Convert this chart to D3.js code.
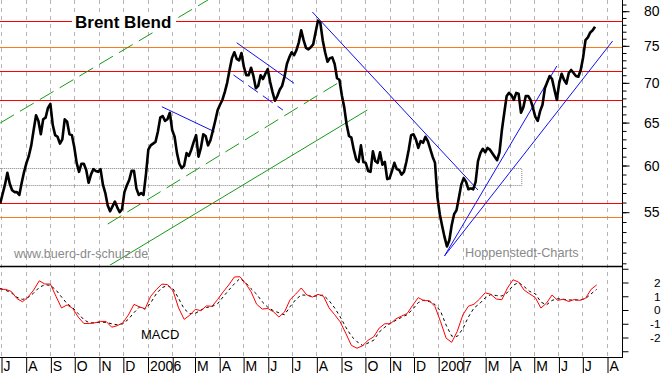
<!DOCTYPE html>
<html>
<head>
<meta charset="utf-8">
<script src="https://cdn.jsdelivr.net/npm/d3@7"></script>
<style>
  html, body { margin: 0; padding: 0; background: #fff; }
  svg { display: block; font-family: "Liberation Sans", Arial, sans-serif; }
</style>
</head>
<body>
<svg id="chart"></svg>
<script>
// Brent daily close, sampled every 3 days starting 2005-06-30
const PRICE_START = new Date(2005, 5, 30);
const PRICE_STEP = 3;
const brentPrices = [
  55.9, 56.9, 57.9, 59.2, 58.0, 57.3, 57.1, 57.1, 56.8, 58.1,
  59.3, 60.3, 61.1, 62.3, 64.1, 65.9, 65.2, 63.6, 65.4, 65.6,
  66.8, 67.3, 64.7, 63.5, 63.3, 62.5, 63.0, 65.4, 65.1, 63.6,
  63.5, 62.1, 60.3, 59.3, 60.2, 60.2, 59.5, 58.1, 59.0, 59.6,
  59.4, 59.3, 59.6, 57.9, 57.0, 55.7, 55.1, 55.6, 56.1, 55.5,
  55.0, 55.3, 57.1, 57.8, 58.4, 59.4, 59.4, 57.5, 56.8, 57.0,
  56.8, 59.0, 61.8, 62.3, 62.5, 62.7, 63.9, 65.6, 65.8, 65.2,
  65.4, 66.2, 64.1, 63.3, 61.4, 60.2, 59.7, 60.0, 61.4, 61.1,
  61.8, 62.7, 63.5, 61.0, 62.0, 63.6, 63.4, 62.3, 62.9, 64.0,
  65.2, 66.5, 67.2, 67.8, 68.8, 70.0, 71.7, 73.3, 74.1, 73.2,
  73.0, 74.0, 72.1, 71.0, 71.0, 72.0, 70.9, 69.3, 69.6, 71.0,
  70.5, 71.2, 71.8, 70.1, 68.8, 67.7, 68.3, 69.1, 69.6, 70.8,
  72.5, 73.4, 74.1, 73.7, 74.4, 75.5, 77.2, 75.8, 74.7, 74.5,
  74.8, 75.2, 76.9, 78.6, 78.3, 75.8, 74.1, 72.8, 73.3, 73.4,
  72.5, 70.6, 70.4, 68.4, 66.9, 64.8, 63.4, 63.2, 61.8, 60.7,
  60.4, 62.3, 60.4, 60.3, 59.4, 59.3, 61.6, 60.5, 60.3, 61.5,
  60.1, 60.4, 58.5, 58.6, 59.4, 60.3, 59.6, 59.5, 59.0, 59.3,
  60.4, 61.8, 63.5, 63.6, 63.0, 62.0, 62.8, 62.6, 63.3, 62.8,
  61.9, 61.0, 60.3, 56.6, 54.8, 53.6, 52.5, 51.6, 52.2, 53.7,
  54.8, 55.2, 56.5, 57.9, 58.6, 58.2, 57.4, 57.5, 57.4, 58.2,
  60.5, 61.4, 61.9, 61.5, 62.0, 61.8, 61.4, 61.0, 60.6, 61.5,
  64.1, 66.2, 68.3, 68.7, 68.4, 67.8, 68.7, 68.6, 66.2, 66.9,
  68.3, 68.3, 67.8, 66.8, 65.7, 65.2, 66.4, 67.2, 69.3, 70.1,
  70.9, 70.5, 69.1, 67.8, 70.0, 71.2, 70.4, 69.9, 71.3, 71.7,
  71.3, 70.9, 70.8, 71.7, 73.4, 75.8, 76.2, 76.9, 77.2, 77.7
];

// MACD and signal line, weekly from 2005-06-30
const MACD_STEP = 7;
const macdValues = [
  1.5, 1.5, 1.35, 0.83, 0.6, 0.95, 1.45, 2.12, 1.89, 1.89,
  1.0, 0.15, 0.37, 0.12, -0.52, -0.98, -0.98, -0.93, -0.83, -0.83,
  -1.25, -1.14, -0.93, -0.36, 0.41, 0.22, 0.1, 1.0, 1.48, 1.88,
  1.85, 1.4, 0.15, -0.68, -0.38, 0.05, -0.05, 0.3, 0.27, 0.76,
  1.32, 1.82, 2.4, 2.42, 1.95, 1.33, 0.42, 0.07, 0.11, -0.12,
  -0.51, -0.15, 0.75, 1.15, 1.6, 1.1, 0.94, 1.14, 1.0, 0.15,
  -0.34, -0.87, -1.7, -2.57, -2.78, -2.6, -2.2, -1.95, -1.31, -1.0,
  -1.0, -0.64, -0.44, -0.26, 0.35, 0.9, 0.68, 0.68, 0.25, -0.85,
  -2.05, -2.35, -1.55, -0.35, 0.28, 0.42, 0.8, 1.25, 1.14, 0.8,
  0.75, 1.6, 2.2, 2.03, 1.44, 1.17, 0.9, 0.14, 0.5, 1.09,
  0.7, 0.78, 0.62, 0.76, 0.7, 0.85, 1.5, 1.82
];
const signalValues = [
  1.57, 1.43, 1.25, 0.92, 0.77, 0.91, 1.23, 1.64, 1.84, 1.79,
  1.46, 0.95, 0.46, 0.17, -0.26, -0.7, -0.94, -0.93, -0.88, -0.9,
  -1.0, -1.08, -1.0, -0.67, -0.19, 0.22, 0.06, 0.52, 1.18, 1.62,
  1.78, 1.55, 0.85, 0.08, -0.27, -0.25, 0.0, 0.18, 0.26, 0.45,
  0.96, 1.44, 1.9, 2.29, 2.0, 1.55, 1.15, 0.6, 0.2, -0.05,
  -0.2, -0.35, 0.24, 0.75, 1.09, 1.08, 0.97, 1.05, 1.08, 0.68,
  0.15, -0.5, -1.25, -1.9, -2.3, -2.58, -2.4, -2.2, -1.6, -1.25,
  -0.96, -0.75, -0.53, -0.34, 0.05, 0.54, 0.72, 0.61, 0.4, -0.09,
  -1.1, -1.9, -1.92, -1.36, -0.5, 0.15, 0.46, 0.88, 1.12, 1.05,
  1.02, 1.27, 1.79, 2.0, 1.7, 1.35, 1.18, 0.58, 0.37, 0.7,
  0.82, 0.78, 0.73, 0.73, 0.73, 0.83, 1.17, 1.5
];

const priceTicks = [55, 60, 65, 70, 75, 80];
const macdTicks = [-2, -1, 0, 1, 2];
const monthLabels = ["J", "A", "S", "O", "N", "D", "2006", "", "M", "A", "M", "J", "J",
                     "A", "S", "O", "N", "D", "2007", "", "M", "A", "M", "J", "J", "A"];

// horizontal marks
const redLevels = [78.55, 71.56, 67.8, 55.95];
const orangeLevels = [74.8, 54.5];
const rangeBox = [57.86, 59.69];
const rangeBoxDates = ["2005-06-20", "2007-04-16"];

// trend lines: [[date, price], [date, price]]
const greenDashed = [
  [["2005-06-30", 64.95], ["2006-03-18", 81.7]],
  [["2005-11-12", 53.8], ["2006-08-30", 70.1]]
];
const greenSolid = [
  [["2005-11-11", 49.66], ["2006-10-04", 66.54]]
];
const blueSolid = [
  [["2006-01-19", 66.95], ["2006-03-26", 63.91]],
  [["2006-04-23", 75.43], ["2006-07-04", 69.94]],
  [["2006-07-27", 79.88], ["2007-02-20", 57.32]],
  [["2007-01-09", 50.7], ["2007-05-30", 72.23]],
  [["2007-01-09", 50.7], ["2007-08-08", 75.67]]
];
const blueDashed = [
  [["2006-04-19", 71.03], ["2006-06-20", 66.54]]
];

const WIDTH = 663, HEIGHT = 373;
const PLOT_RIGHT = 622;
const MAIN = {top: 0, bottom: 265};
const SUB = {top: 267, bottom: 357};

const parseDate = d3.timeParse("%Y-%m-%d");

const priceData = brentPrices.map((v, i) => ({date: d3.timeDay.offset(PRICE_START, i * PRICE_STEP), value: v}));
const macdData = macdValues.map((v, i) => ({date: d3.timeDay.offset(PRICE_START, i * MACD_STEP), macd: v, signal: signalValues[i]}));

const x = d3.scaleTime()
  .domain([new Date(2005, 6, 1), new Date(2007, 7, 1)])
  .range([1, 607]);

const yPrice = d3.scaleLog()
  .domain([55, 80])
  .range([212.2, 11.2]);

const yMacd = d3.scaleLinear()
  .domain([-2, 2])
  .range([337.5, 282.5]);

const svg = d3.select("#chart")
  .attr("width", WIDTH)
  .attr("height", HEIGHT);

svg.append("rect").attr("width", WIDTH).attr("height", HEIGHT).attr("fill", "#fff");

const defs = svg.append("defs");
defs.append("clipPath").attr("id", "clip-main")
  .append("rect").attr("x", 0).attr("y", MAIN.top).attr("width", PLOT_RIGHT).attr("height", MAIN.bottom - MAIN.top);
defs.append("clipPath").attr("id", "clip-sub")
  .append("rect").attr("x", 0).attr("y", SUB.top).attr("width", PLOT_RIGHT).attr("height", SUB.bottom - SUB.top);

const months = d3.timeMonth.range(new Date(2005, 6, 1), new Date(2007, 8, 1));

// vertical month grid
svg.append("g")
  .selectAll("line")
  .data(months)
  .join("line")
  .attr("x1", d => Math.round(x(d)) + 0.5)
  .attr("x2", d => Math.round(x(d)) + 0.5)
  .attr("y1", 0)
  .attr("y2", SUB.bottom)
  .attr("stroke", "#b4b4b4")
  .attr("stroke-dasharray", "4,4");

const main = svg.append("g").attr("clip-path", "url(#clip-main)");

// horizontal levels
main.append("g")
  .attr("shape-rendering", "crispEdges")
  .selectAll("line")
  .data(redLevels)
  .join("line")
  .attr("x1", 0).attr("x2", PLOT_RIGHT)
  .attr("y1", d => Math.round(yPrice(d)) + 0.5)
  .attr("y2", d => Math.round(yPrice(d)) + 0.5)
  .style("stroke", "#ff0000")
  .style("stroke-width", 1.2);

main.append("g")
  .attr("shape-rendering", "crispEdges")
  .selectAll("line")
  .data(orangeLevels)
  .join("line")
  .attr("x1", 0).attr("x2", PLOT_RIGHT)
  .attr("y1", d => Math.round(yPrice(d)) + 0.5)
  .attr("y2", d => Math.round(yPrice(d)) + 0.5)
  .style("stroke", "#ff7a1c")
  .style("stroke-width", 1.2);

// grey range box
main.append("rect")
  .attr("x", x(parseDate(rangeBoxDates[0])))
  .attr("y", Math.round(yPrice(rangeBox[1])) + 0.5)
  .attr("width", x(parseDate(rangeBoxDates[1])) - x(parseDate(rangeBoxDates[0])))
  .attr("height", Math.round(yPrice(rangeBox[0])) - Math.round(yPrice(rangeBox[1])))
  .attr("fill", "none")
  .attr("stroke", "#808080")
  .attr("stroke-dasharray", "1,1");

function drawSegments(list, color, width, dash) {
  main.append("g")
    .selectAll("line")
    .data(list)
    .join("line")
    .attr("x1", d => x(parseDate(d[0][0])))
    .attr("y1", d => yPrice(d[0][1]))
    .attr("x2", d => x(parseDate(d[1][0])))
    .attr("y2", d => yPrice(d[1][1]))
    .attr("stroke", color)
    .attr("stroke-width", width)
    .attr("stroke-dasharray", dash);
}

drawSegments(greenDashed, "#179a17", 1, "16,7");
drawSegments(greenSolid, "#179a17", 1, null);
drawSegments(blueSolid, "#1010f0", 1, null);
drawSegments(blueDashed, "#1010f0", 1, "12,6");

// price line
const priceLine = d3.line()
  .x(d => x(d.date))
  .y(d => yPrice(d.value));

main.append("path")
  .datum(priceData)
  .attr("d", priceLine)
  .attr("fill", "none")
  .attr("stroke", "#000")
  .attr("stroke-width", 2.6)
  .attr("stroke-linejoin", "round");

// title
svg.append("rect")
  .attr("x", 72).attr("y", 12).attr("width", 104).attr("height", 19)
  .attr("fill", "#fff");
svg.append("text")
  .attr("x", 75).attr("y", 28)
  .attr("font-size", 17)
  .attr("font-weight", "bold")
  .text("Brent Blend");

// watermarks
svg.append("text")
  .attr("x", 14).attr("y", 258)
  .attr("font-size", 12.5)
  .attr("fill", "#8a8a8a")
  .text("www.buero-dr-schulz.de");
svg.append("text")
  .attr("x", 465).attr("y", 257)
  .attr("font-size", 12.7)
  .attr("fill", "#8a8a8a")
  .text("Hoppenstedt-Charts");

// MACD panel
const sub = svg.append("g").attr("clip-path", "url(#clip-sub)");

sub.append("path")
  .datum(macdData)
  .attr("d", d3.line().x(d => x(d.date)).y(d => yMacd(d.signal)))
  .attr("fill", "none")
  .attr("stroke", "#000")
  .attr("stroke-dasharray", "3,3");

sub.append("path")
  .datum(macdData)
  .attr("d", d3.line().x(d => x(d.date)).y(d => yMacd(d.macd)))
  .attr("fill", "none")
  .attr("stroke", "#ff0000");

svg.append("text")
  .attr("x", 141).attr("y", 339)
  .attr("font-size", 13)
  .text("MACD");

// frame lines
svg.append("line")
  .attr("x1", 0).attr("x2", PLOT_RIGHT)
  .attr("y1", SUB.top - 0.5).attr("y2", SUB.top - 0.5)
  .attr("stroke", "#000").attr("stroke-width", 1.5);
svg.append("line")
  .attr("x1", 0).attr("x2", PLOT_RIGHT)
  .attr("y1", SUB.bottom + 0.5).attr("y2", SUB.bottom + 0.5)
  .attr("stroke", "#000");
svg.append("line")
  .attr("x1", PLOT_RIGHT + 0.5).attr("x2", PLOT_RIGHT + 0.5)
  .attr("y1", 0).attr("y2", SUB.bottom + 1)
  .attr("stroke", "#000");

// right price axis: minor + major ticks
svg.append("g")
  .attr("transform", `translate(${PLOT_RIGHT + 0.5},0)`)
  .call(d3.axisRight(yPrice).tickValues(d3.range(50, 82)).tickSize(4).tickFormat(""))
  .call(g => g.select(".domain").remove());

svg.append("g")
  .attr("transform", `translate(${PLOT_RIGHT + 0.5},0)`)
  .call(d3.axisRight(yPrice).tickValues(priceTicks).tickSize(7).tickFormat(d => String(d)))
  .call(g => g.select(".domain").remove())
  .call(g => g.selectAll("text")
    .attr("x", 37)
    .attr("text-anchor", "end")
    .attr("font-size", 14)
    .attr("font-family", "Liberation Sans, Arial, sans-serif"));

// right MACD axis
svg.append("g")
  .attr("transform", `translate(${PLOT_RIGHT + 0.5},0)`)
  .call(d3.axisRight(yMacd).tickValues(d3.range(-3, 4)).tickSize(6).tickFormat(""))
  .call(g => g.select(".domain").remove());

svg.append("g")
  .attr("transform", `translate(${PLOT_RIGHT + 0.5},0)`)
  .call(d3.axisRight(yMacd).tickValues(macdTicks).tickSize(0).tickFormat(d => String(d)))
  .call(g => g.select(".domain").remove())
  .call(g => g.selectAll("text")
    .attr("x", 38)
    .attr("text-anchor", "end")
    .attr("font-size", 11.8)
    .attr("font-family", "Liberation Sans, Arial, sans-serif"));

// bottom month axis
svg.append("g")
  .attr("transform", `translate(0,${SUB.bottom})`)
  .call(d3.axisBottom(x).tickValues(months).tickSize(16).tickFormat((d, i) => monthLabels[i]))
  .call(g => g.select(".domain").remove())
  .call(g => g.selectAll(".tick line").attr("transform", "translate(0.5,0)").attr("stroke", "#000"))
  .call(g => g.selectAll("text")
    .attr("x", 2)
    .attr("y", 14)
    .attr("dy", null)
    .attr("text-anchor", "start")
    .attr("font-size", 14)
    .attr("font-family", "Liberation Sans, Arial, sans-serif")
    .attr("fill", "#000"));
</script>
</body>
</html>
